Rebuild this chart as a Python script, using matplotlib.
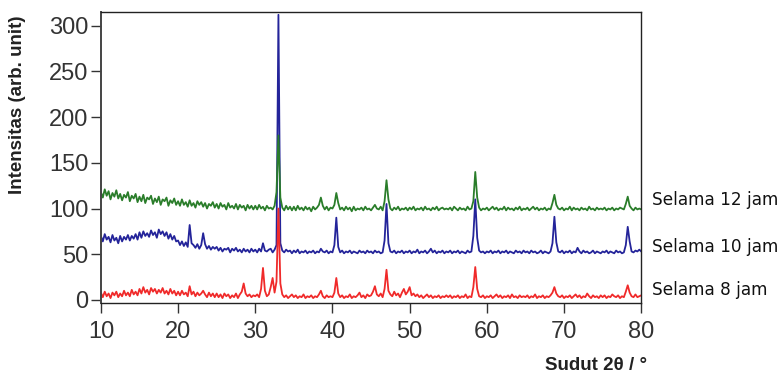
from typing import List

import matplotlib.pyplot as plt
import numpy as np
from matplotlib.transforms import blended_transform_factory

FONTSIZE: int = 17
START: float = 10.0
STEP: float = 0.25

# intensity every 0.25 deg from 10 to 80 (2 theta)
jam12: List[int] = [
    118, 112, 121, 114, 119, 110, 117, 113, 120, 111, 116, 109, 115, 112, 118, 108, 114, 111, 116, 107,
    113, 108, 115, 106, 112, 110, 114, 105, 111, 107, 113, 104, 110, 108, 112, 103, 109, 106, 111, 104,
    108, 103, 110, 104, 107, 102, 109, 103, 106, 101, 108, 104, 107, 102, 106, 100, 105, 103, 107, 101,
    105, 100, 106, 102, 104, 99, 106, 101, 103, 100, 105, 99, 104, 101, 103, 98, 104, 100, 103, 99,
    103, 99, 104, 100, 102, 98, 103, 100, 101, 99, 103, 118, 180, 112, 101, 98, 103, 99, 102, 98,
    102, 98, 103, 99, 101, 98, 102, 99, 101, 97, 102, 99, 101, 104, 112, 103, 99, 102, 98, 101,
    100, 104, 117, 106, 99, 101, 98, 102, 99, 101, 97, 102, 98, 100, 99, 101, 98, 102, 99, 100,
    98, 101, 104, 100, 99, 102, 98, 108, 131, 110, 100, 98, 101, 99, 102, 98, 100, 99, 101, 98,
    101, 99, 102, 98, 100, 99, 101, 98, 102, 99, 100, 98, 101, 99, 102, 98, 100, 101, 99, 100,
    99, 101, 98, 102, 100, 98, 101, 99, 100, 98, 102, 99, 100, 108, 140, 112, 101, 98, 100, 99,
    101, 98, 100, 102, 99, 101, 98, 100, 99, 102, 98, 101, 99, 100, 98, 101, 99, 102, 98, 100,
    99, 101, 98, 100, 102, 99, 101, 98, 100, 99, 101, 98, 100, 99, 106, 115, 104, 100, 99, 101,
    98, 100, 99, 102, 98, 101, 99, 100, 98, 101, 99, 100, 98, 102, 99, 100, 98, 101, 99, 100,
    99, 101, 98, 100, 99, 101, 98, 100, 99, 101, 100, 99, 105, 113, 103, 100, 98, 101, 99, 100,
    99,
]
jam10: List[int] = [
    70, 64, 72, 66, 69, 63, 71, 65, 68, 62, 70, 64, 69, 66, 71, 65, 70, 67, 72, 66,
    74, 68, 75, 70, 73, 69, 76, 71, 74, 68, 77, 72, 75, 70, 74, 67, 72, 66, 70, 64,
    65, 60, 64, 59, 63, 58, 82, 62, 60, 57, 61, 56, 60, 73, 61, 56, 59, 55, 58, 56,
    58, 54, 57, 53, 56, 55, 57, 52, 56, 54, 57, 53, 55, 52, 56, 53, 55, 52, 56, 53,
    55, 52, 56, 53, 62, 54, 53, 55, 56, 52, 55, 60, 312, 62, 54, 52, 55, 53, 54, 51,
    54, 52, 55, 51, 53, 52, 54, 51, 53, 52, 54, 51, 53, 52, 56, 53, 52, 54, 51, 53,
    52, 60, 90, 58, 52, 54, 51, 53, 52, 54, 51, 53, 52, 51, 54, 52, 53, 51, 54, 52,
    53, 51, 54, 52, 53, 51, 52, 65, 105, 62, 53, 52, 54, 51, 53, 52, 54, 51, 53, 52,
    54, 51, 53, 52, 55, 51, 53, 52, 54, 51, 53, 56, 52, 54, 51, 53, 52, 54, 51, 53,
    52, 54, 51, 53, 52, 54, 51, 53, 52, 51, 54, 52, 53, 70, 110, 68, 54, 52, 53, 51,
    53, 52, 54, 51, 53, 52, 54, 51, 53, 52, 54, 51, 53, 52, 51, 54, 52, 53, 51, 54,
    52, 53, 51, 54, 52, 53, 51, 52, 54, 51, 53, 52, 51, 53, 62, 91, 63, 53, 52, 54,
    51, 53, 52, 54, 51, 53, 52, 57, 53, 51, 54, 52, 53, 51, 52, 54, 51, 53, 52, 51,
    53, 52, 54, 51, 53, 52, 51, 54, 52, 53, 51, 52, 60, 80, 64, 53, 52, 54, 53, 55,
    53,
]
jam8: List[int] = [
    8, 3, 9, 4, 7, 2, 8, 5, 9, 3, 7, 4, 10, 5, 8, 4, 11, 6, 9, 5,
    12, 7, 14, 8, 11, 6, 13, 9, 12, 7, 11, 8, 13, 7, 10, 6, 12, 7, 10, 5,
    9, 5, 10, 6, 8, 4, 15, 6, 9, 4, 8, 5, 7, 10, 6, 3, 8, 4, 7, 3,
    7, 3, 6, 2, 7, 4, 6, 2, 5, 3, 7, 2, 6, 9, 18, 7, 4, 6, 3, 5,
    4, 6, 3, 12, 35, 10, 4, 6, 14, 24, 8, 20, 100, 18, 6, 3, 5, 2, 4, 6,
    3, 5, 2, 4, 3, 6, 2, 4, 3, 5, 2, 4, 3, 6, 10, 4, 2, 5, 3, 4,
    3, 8, 24, 7, 3, 5, 2, 4, 3, 6, 2, 4, 3, 5, 8, 3, 5, 2, 6, 4,
    5, 9, 15, 6, 4, 7, 3, 12, 33, 10, 6, 4, 9, 5, 7, 3, 8, 12, 6, 9,
    14, 5, 7, 4, 6, 3, 5, 2, 4, 6, 3, 5, 2, 4, 3, 5, 2, 4, 3, 5,
    3, 5, 2, 4, 3, 5, 2, 4, 3, 6, 2, 4, 3, 14, 36, 12, 4, 3, 5, 2,
    4, 3, 5, 2, 4, 6, 3, 5, 2, 4, 3, 5, 2, 6, 3, 4, 2, 5, 3, 4,
    3, 5, 2, 4, 3, 6, 2, 4, 3, 5, 2, 4, 3, 5, 8, 14, 7, 4, 3, 5,
    2, 4, 3, 5, 2, 4, 6, 3, 5, 2, 4, 3, 7, 4, 2, 5, 3, 4, 2, 5,
    3, 5, 2, 4, 3, 6, 4, 3, 5, 2, 4, 3, 9, 16, 8, 4, 3, 6, 3, 4,
    5,
]

labels: List[str] = ["Selama 12 jam", "Selama 10 jam", "Selama 8 jam"]
labelY: List[float] = [109, 58, 11]
xTicks: List[int] = [10, 20, 30, 40, 50, 60, 70, 80]
yTicks: List[int] = [0, 50, 100, 150, 200, 250, 300]


def main() -> None:
    twoTheta = START + STEP * np.arange(len(jam12))

    fig = plt.figure(figsize=(7.82, 3.77), dpi=100)
    ax = fig.add_axes([0.129, 0.196, 0.691, 0.772])

    ax.plot(twoTheta, jam10, color="#24249a", lw=1.3)
    ax.plot(twoTheta, jam12, color="#2a7d2a", lw=1.3)
    ax.plot(twoTheta, jam8, color="#f02a2a", lw=1.3)

    ax.set_xlim(10, 80)
    ax.set_ylim(-3.5, 315)
    ax.set_xticks(xTicks)
    ax.set_yticks(yTicks)
    ax.tick_params(
        axis="both",
        direction="out",
        length=7,
        width=1.0,
        labelsize=FONTSIZE,
        labelcolor="#333333",
        colors="#333333",
    )
    ax.tick_params(axis="x", pad=6)
    ax.tick_params(axis="y", pad=2)
    for lbl in ax.get_xticklabels() + ax.get_yticklabels():
        lbl.set_family("Liberation Sans")
    for s in ax.spines.values():
        s.set_linewidth(1.0)
        s.set_color("#222222")
    ax.spines["left"].set_linewidth(1.4)
    ax.spines["left"].set_color("#444444")

    trans = blended_transform_factory(ax.transAxes, ax.transData)
    for txt, yv in zip(labels, labelY):
        ax.text(
            1.02,
            yv,
            txt,
            transform=trans,
            ha="left",
            va="center",
            fontsize=12.2,
            family="DejaVu Sans",
            color="#111111",
            clip_on=False,
        )

    fig.text(
        18 / 782,
        1 - 105 / 377,
        "Intensitas (arb. unit)",
        rotation=90,
        ha="center",
        va="center",
        fontsize=13.5,
        fontweight="bold",
        family="Liberation Sans",
        color="#222222",
    )
    fig.text(
        596 / 782,
        1 - 365 / 377,
        "Sudut 2θ / °",
        ha="center",
        va="center",
        fontsize=13.5,
        fontweight="bold",
        family="Liberation Sans",
        color="#222222",
    )

    fig.savefig("out.png", dpi=100)


if __name__ == "__main__":
    main()
